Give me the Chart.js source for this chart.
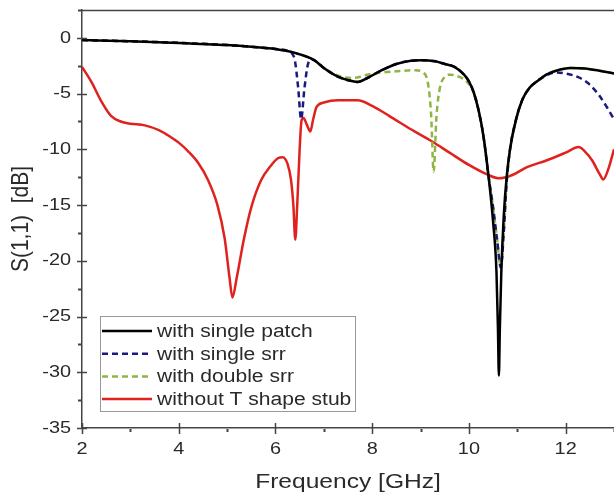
<!DOCTYPE html>
<html>
<head>
<meta charset="utf-8">
<script src="https://cdn.jsdelivr.net/npm/chart.js@4"></script>
<style>
  html, body { margin: 0; padding: 0; background: #fff; }
  #wrap { width: 614px; height: 498px; }
</style>
</head>
<body>
<div id="wrap"><canvas id="s11Chart" width="614" height="498"></canvas></div>
<script>
// S(1,1) curves (frequency in GHz, value in dB)
const patchFreq = [2.0, 3.0, 4.0, 5.0, 5.5, 6.0, 6.4, 6.8, 7.0, 7.3, 7.6, 7.7, 7.9, 8.2, 8.5, 8.8, 9.0, 9.3, 9.5, 9.7, 9.9, 10.0, 10.1, 10.2, 10.3, 10.4, 10.5, 10.57, 10.6, 10.62, 10.64, 10.67, 10.72, 10.78, 10.85, 10.97, 11.1, 11.25, 11.44, 11.6, 11.8, 12.1, 12.4, 12.7, 13.0];
const patchS11 = [-0.2, -0.3, -0.45, -0.65, -0.8, -1.0, -1.35, -2.0, -2.7, -3.5, -3.9, -3.95, -3.6, -2.9, -2.35, -2.05, -2.0, -2.1, -2.35, -2.6, -3.3, -3.9, -4.9, -6.5, -8.8, -12.2, -16.5, -21, -26, -30.3, -26, -21, -16, -12.5, -10, -7.4, -5.6, -4.5, -3.8, -3.3, -2.95, -2.7, -2.75, -2.95, -3.2];

const srrFreq = [2.0, 3.0, 4.0, 5.0, 5.5, 6.0, 6.3, 6.4, 6.47, 6.53, 6.6, 6.67, 6.75, 6.9, 7.0, 7.3, 7.6, 7.7, 7.9, 8.2, 8.5, 8.8, 9.0, 9.3, 9.5, 9.7, 9.9, 10.0, 10.1, 10.2, 10.3, 10.4, 10.5, 10.58, 10.66, 10.72, 10.78, 10.85, 10.97, 11.1, 11.25, 11.44, 11.6, 11.8, 12.0, 12.3, 12.5, 12.7, 12.85, 13.0];
const srrS11 = [-0.2, -0.3, -0.45, -0.65, -0.8, -1.0, -1.3, -2.0, -4.5, -7.3, -4.5, -2.4, -1.95, -2.3, -2.7, -3.5, -3.9, -3.95, -3.6, -2.9, -2.35, -2.05, -2.0, -2.1, -2.35, -2.6, -3.3, -3.9, -4.9, -6.5, -8.8, -12.2, -15.2, -18, -20.6, -17.5, -13, -10, -7.4, -5.6, -4.5, -3.8, -3.35, -3.1, -3.2, -3.6, -4.2, -5.2, -6.2, -7.3];

const doubleFreq = [2.0, 3.0, 4.0, 5.0, 5.5, 6.0, 6.4, 6.8, 7.0, 7.3, 7.6, 7.9, 8.2, 8.5, 8.9, 9.05, 9.15, 9.22, 9.27, 9.33, 9.4, 9.5, 9.6, 9.8, 9.95, 10.1, 10.2, 10.3, 10.4, 10.5, 10.58, 10.66, 10.72, 10.78, 10.85, 10.97, 11.1, 11.25, 11.44, 11.6, 11.8, 12.1, 12.4, 12.7, 13.0];
const doubleS11 = [-0.2, -0.3, -0.45, -0.65, -0.8, -1.0, -1.35, -2.0, -2.7, -3.4, -3.6, -3.3, -3.1, -3.0, -2.9, -3.1, -4.0, -7.0, -12.0, -7.0, -4.5, -3.5, -3.3, -3.5, -3.9, -4.9, -6.5, -8.8, -12.2, -15.2, -18, -20.6, -17.5, -13, -10, -7.4, -5.6, -4.5, -3.8, -3.3, -2.95, -2.7, -2.75, -2.95, -3.2];

const stubFreq = [2.0, 2.2, 2.4, 2.6, 2.8, 3.0, 3.3, 3.6, 3.8, 4.0, 4.2, 4.4, 4.6, 4.8, 4.95, 5.05, 5.11, 5.2, 5.35, 5.5, 5.7, 5.9, 6.05, 6.15, 6.25, 6.32, 6.37, 6.41, 6.45, 6.5, 6.54, 6.58, 6.65, 6.72, 6.78, 6.85, 7.0, 7.3, 7.7, 8.0, 8.35, 8.8, 9.24, 9.6, 10.0, 10.4, 10.62, 10.9, 11.2, 11.6, 12.0, 12.27, 12.4, 12.55, 12.7, 12.78, 12.88, 13.0];
const stubS11 = [-2.6, -4.0, -5.7, -7.0, -7.5, -7.7, -7.85, -8.3, -8.8, -9.4, -10.2, -11.2, -12.7, -15.0, -18, -21.5, -23.3, -21.5, -18, -15.2, -12.8, -11.5, -10.8, -10.7, -11.3, -12.7, -15, -18.1, -15, -10, -7.4, -7.2, -7.8, -8.4, -7.3, -6.2, -5.8, -5.6, -5.6, -6.1, -7.0, -8.2, -9.3, -10.3, -11.4, -12.3, -12.6, -12.3, -11.6, -11.0, -10.3, -9.8, -10.2, -11.0, -12.2, -12.7, -11.8, -10.0];

const seriesLabels = ['with single patch', 'with single srr', 'with double srr', 'without T shape stub'];
const xTicks = [2, 4, 6, 8, 10, 12];
const xMinorTicks = [3, 5, 7, 9, 11, 13];
const yTicks = [0, -5, -10, -15, -20, -25, -30, -35];
const yMinorTicks = [2.5, -2.5, -7.5, -12.5, -17.5, -22.5, -27.5, -32.5];

const FONT = '"Liberation Sans", Arial, sans-serif';
const TEXT_COLOR = '#2a2a2a';
const STRETCH = 1.17; // the source figure is a little wider than tall

function pts(xs, ys) {
    return xs.map((x, i) => ({ x: x, y: ys[i] }));
}

// horizontally stretched text, anchored like fillText with the given align
function wideText(ctx, text, x, y, align) {
    const w = ctx.measureText(text).width * STRETCH;
    let left = x;
    if (align === 'center') left = x - w / 2;
    else if (align === 'right') left = x - w;
    ctx.save();
    ctx.translate(left, y);
    ctx.scale(STRETCH, 1);
    ctx.textAlign = 'left';
    ctx.fillText(text, 0, 0);
    ctx.restore();
}

// ticks, tick labels, frame, axis titles and the inset legend
const decorations = {
    id: 'decorations',
    afterDraw(chart) {
        const ctx = chart.ctx;
        const area = chart.chartArea;
        const xs = chart.scales.x, ys = chart.scales.y;
        ctx.save();
        ctx.strokeStyle = '#444';
        ctx.lineWidth = 1.5;
        ctx.beginPath();
        ctx.moveTo(area.left, area.top + 0.5);
        ctx.lineTo(area.right, area.top + 0.5);
        // major ticks cross the axis line
        xs.ticks.forEach(t => {
            const px = Math.round(xs.getPixelForValue(t.value)) + 0.5;
            ctx.moveTo(px, area.bottom - 5);
            ctx.lineTo(px, area.bottom + 6);
        });
        ys.ticks.forEach(t => {
            const py = Math.round(ys.getPixelForValue(t.value)) + 0.5;
            ctx.moveTo(area.left - 5, py);
            ctx.lineTo(area.left + 5, py);
        });
        ctx.stroke();

        ctx.lineWidth = 2;
        ctx.beginPath();
        xMinorTicks.forEach(v => {
            const px = Math.round(xs.getPixelForValue(v)) + 0.5;
            ctx.moveTo(px, area.bottom + 1);
            ctx.lineTo(px, area.bottom + 4);
        });
        yMinorTicks.forEach(v => {
            const py = Math.round(ys.getPixelForValue(v)) + 0.5;
            ctx.moveTo(area.left - 1, py);
            ctx.lineTo(area.left - 4, py);
        });
        ctx.stroke();

        // tick labels
        ctx.fillStyle = TEXT_COLOR;
        ctx.font = '17px ' + FONT;
        ctx.textBaseline = 'middle';
        xs.ticks.forEach(t => {
            wideText(ctx, String(t.value), xs.getPixelForValue(t.value), area.bottom + 21, 'center');
        });
        ys.ticks.forEach(t => {
            wideText(ctx, String(t.value), area.left - 11, ys.getPixelForValue(t.value), 'right');
        });

        // axis titles
        ctx.font = '21px ' + FONT;
        wideText(ctx, 'Frequency [GHz]', 348, 482, 'center');
        ctx.save();
        ctx.translate(21, 219);
        ctx.rotate(-Math.PI / 2);
        ctx.scale(1, STRETCH);
        ctx.textAlign = 'center';
        ctx.fillText('S(1,1)  [dB]', 0, 0);
        ctx.restore();

        // legend
        const lx = 100, ly = 316, lw = 255, lh = 95;
        ctx.fillStyle = '#fff';
        ctx.fillRect(lx, ly, lw, lh);
        ctx.strokeStyle = '#999';
        ctx.lineWidth = 1;
        ctx.strokeRect(lx + 0.5, ly + 0.5, lw, lh);
        ctx.font = '18px ' + FONT;
        chart.data.datasets.forEach((ds, i) => {
            const y = ly + 15 + i * 22.7;
            ctx.strokeStyle = ds.borderColor;
            ctx.lineWidth = ds.borderWidth;
            ctx.setLineDash(ds.borderDash || []);
            ctx.beginPath();
            ctx.moveTo(lx + 2, y);
            ctx.lineTo(lx + 52, y);
            ctx.stroke();
            ctx.setLineDash([]);
            ctx.fillStyle = TEXT_COLOR;
            wideText(ctx, ds.label, lx + 57, y + 1, 'left');
        });
        ctx.restore();
    }
};

const ctx = document.getElementById('s11Chart').getContext('2d');
new Chart(ctx, {
    type: 'line',
    data: {
        datasets: [
            { label: seriesLabels[0], data: pts(patchFreq, patchS11), borderColor: '#000000', borderWidth: 2.5 },
            { label: seriesLabels[1], data: pts(srrFreq, srrS11), borderColor: '#1a1a7e', borderWidth: 2.5, borderDash: [6, 4] },
            { label: seriesLabels[2], data: pts(doubleFreq, doubleS11), borderColor: '#8fb545', borderWidth: 2.5, borderDash: [6, 4] },
            { label: seriesLabels[3], data: pts(stubFreq, stubS11), borderColor: '#e0221e', borderWidth: 2.5 }
        ]
    },
    options: {
        responsive: false,
        animation: false,
        parsing: false,
        elements: { point: { radius: 0 }, line: { cubicInterpolationMode: 'monotone', fill: false } },
        layout: { padding: { top: 10, right: 0 } },
        plugins: { legend: { display: false }, tooltip: { enabled: false } },
        scales: {
            x: {
                type: 'linear', min: 2, max: 13,
                afterBuildTicks: s => { s.ticks = xTicks.map(v => ({ value: v })); },
                afterFit: s => { s.height = 70; },
                grid: { display: false, drawTicks: false },
                border: { display: true, color: '#444', width: 1.5 },
                ticks: { display: false }
            },
            y: {
                type: 'linear', min: -35, max: 2.5,
                afterBuildTicks: s => { s.ticks = yTicks.map(v => ({ value: v })); },
                afterFit: s => { s.width = 82; },
                grid: { display: false, drawTicks: false },
                border: { display: true, color: '#444', width: 1.5 },
                ticks: { display: false }
            }
        }
    },
    plugins: [decorations]
});
</script>
</body>
</html>
